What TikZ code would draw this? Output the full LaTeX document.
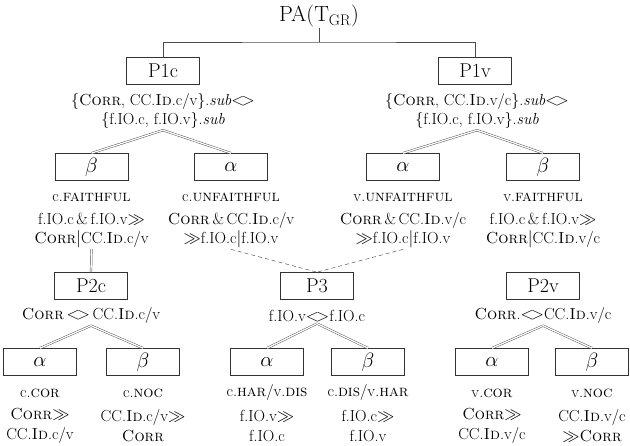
\documentclass[tikz,border=0pt]{standalone}
\usepackage{fontspec}
\usepackage{amssymb}
\newcommand{\Corr}{\textsc{Corr}}
\newcommand{\Idd}{\textsc{Id}}
\newcommand{\dia}{\mathrel{<\mkern-3mu>}}
\begin{document}
\begin{tikzpicture}[x=1pt,y=-1pt,
  box/.style={draw=black!80, line width=0.7pt, minimum width=73pt, minimum height=27pt, inner sep=0pt, font=\fontsize{20}{24}\selectfont},
  lbl/.style={align=center, inner sep=1.5pt, font=\fontsize{16}{19}\selectfont},
  lblb/.style={lbl, font=\fontsize{16}{20}\selectfont},
  dbl/.style={draw=black!70, double=white, double distance=1.3pt, line width=0.45pt},
  dsh/.style={draw=black!65, dash pattern=on 4pt off 3pt, line width=0.5pt},
  tree/.style={draw=black!70, line width=0.6pt}]
\useasboundingbox (0,0) rectangle (630,446);
% top
\node[font=\fontsize{22}{26}\selectfont, inner sep=1pt] (pa) at (319,16) {PA($\mathrm{T}_{\mathrm{GR}}$)};
\coordinate (jn) at (319,42);
\node[box] (p1c) at (163,71) {P1c};
\node[box] (p1v) at (475,71) {P1v};
\draw[tree] (pa) -- (jn);
\draw[tree] (p1c.north) |- (jn) -| (p1v.north);
\node[lbl] (p1cl) at (163,111) {\{\Corr, CC.\Idd.c/v\}.\textit{sub}$\dia$\\ \{f.IO.c, f.IO.v\}.\textit{sub}};
\node[lbl] (p1vl) at (477,111) {\{\Corr, CC.\Idd.v/c\}.\textit{sub}$\dia$\\ \{f.IO.c, f.IO.v\}.\textit{sub}};
% row 2
\node[box] (b2a) at (91.5,167) {$\beta$};
\node[box] (b2b) at (231,167) {$\alpha$};
\node[box] (b2c) at (403,167) {$\alpha$};
\node[box] (b2d) at (543,167) {$\beta$};
\draw[dbl] (p1cl.south) -- (b2a.north);
\draw[dbl] (p1cl.south) -- (b2b.north);
\draw[dbl] (p1vl.south) -- (b2c.north);
\draw[dbl] (p1vl.south) -- (b2d.north);
\node[lbl] (l2a) at (91.5,197) {c.\textsc{faithful}};
\node[lbl] (l2b) at (231,197) {c.\textsc{unfaithful}};
\node[lbl] (l2c) at (403,197) {v.\textsc{unfaithful}};
\node[lbl] (l2d) at (543,197) {v.\textsc{faithful}};
\node[lbl] (c2a) at (91.5,230) {f.IO.c\,\&\,f.IO.v$\gg$\\ \Corr$|$CC.\Idd.c/v};
\node[lbl] (c2b) at (231,230) {\Corr\,\&\,CC.\Idd.c/v\\ $\gg$f.IO.c$|$f.IO.v};
\node[lbl] (c2c) at (403,230) {\Corr\,\&\,CC.\Idd.v/c\\ $\gg$f.IO.c$|$f.IO.v};
\node[lbl] (c2d) at (543,230) {f.IO.c\,\&\,f.IO.v$\gg$\\ \Corr$|$CC.\Idd.v/c};
% row 3
\node[box] (p2c) at (91,286) {P2c};
\node[box] (p3) at (317,286) {P3};
\node[box] (p2v) at (543,286) {P2v};
\draw[dbl] (c2a.south) -- (p2c.north);
\draw[dbl] (c2d.south) -- (p2v.north);
\draw[dsh] (c2b.south) -- (p3.north);
\draw[dsh] (c2c.south) -- (p3.north);
\node[lbl] (p2cl) at (91,316) {\Corr\,$\dia$\,CC.\Idd.c/v};
\node[lbl] (p3l) at (317,316) {f.IO.v$\dia$f.IO.c};
\node[lbl] (p2vl) at (543,316) {\Corr.$\dia$CC.\Idd.v/c};
% row 4
\node[box] (a1) at (40,362) {$\alpha$};
\node[box] (b1) at (143,362) {$\beta$};
\node[box] (a2) at (267,362) {$\alpha$};
\node[box] (b2) at (368,362) {$\beta$};
\node[box] (a3) at (492,362) {$\alpha$};
\node[box] (b3) at (592,362) {$\beta$};
\draw[dbl] (p2cl.south) -- (a1.north);
\draw[dbl] (p2cl.south) -- (b1.north);
\draw[dbl] (p3l.south) -- (a2.north);
\draw[dbl] (p3l.south) -- (b2.north);
\draw[dbl] (p2vl.south) -- (a3.north);
\draw[dbl] (p2vl.south) -- (b3.north);
\node[lbl] (n1) at (40,393) {c.\textsc{cor}};
\node[lbl] (n2) at (143,393) {c.\textsc{noc}};
\node[lbl] (n3) at (267,393) {c.\textsc{har}/v.\textsc{dis}};
\node[lbl] (n4) at (368,393) {c.\textsc{dis}/v.\textsc{har}};
\node[lbl] (n5) at (492,393) {v.\textsc{cor}};
\node[lbl] (n6) at (592,393) {v.\textsc{noc}};
\node[lblb] (k1) at (40,426) {\Corr$\gg$\\ CC.\Idd.c/v};
\node[lblb] (k2) at (143,426) {CC.\Idd.c/v$\gg$\\ \Corr};
\node[lblb] (k3) at (267,426) {f.IO.v$\gg$\\ f.IO.c};
\node[lblb] (k4) at (368,426) {f.IO.c$\gg$\\ f.IO.v};
\node[lblb] (k5) at (492,426) {\Corr$\gg$\\ CC.\Idd.v/c};
\node[lblb] (k6) at (592,426) {CC.\Idd.v/c\\ $\gg$\Corr};
\end{tikzpicture}
\end{document}
